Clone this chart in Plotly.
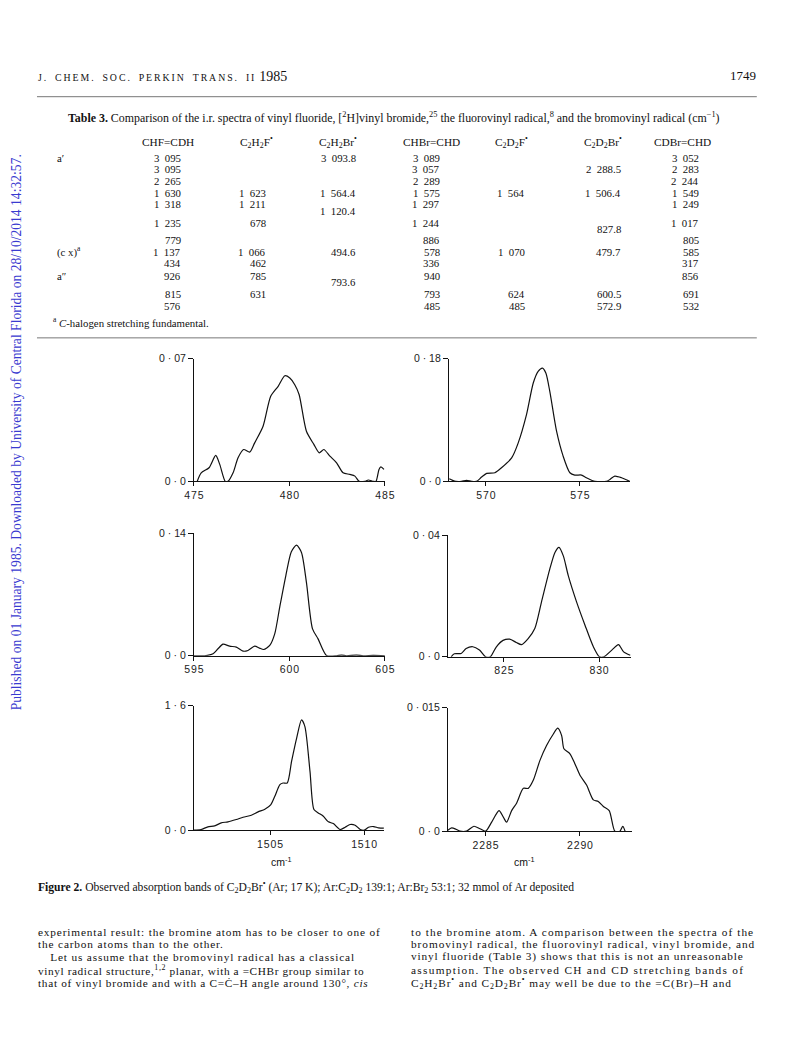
import plotly.graph_objects as go

W, H = 792, 1056

# ---------------- spectra ----------------
x1 = [475.17, 475.38, 475.79, 476.14, 476.35, 476.64, 476.78, 477.05, 477.31, 477.6, 477.92, 478.18,
      478.62, 479.02, 479.41, 479.76, 480.02, 480.28, 480.51, 480.89, 481.28, 481.56, 481.8, 482.12,
      482.47, 482.81, 483.16, 483.43, 483.65, 483.95, 484.13, 484.39, 484.53, 484.69, 484.79, 484.95]
y1 = [0, 0.0049, 0.0078, 0.0148, 0.0097, 0, 0, 0.0049, 0.0135, 0.0182, 0.0167, 0.022,
      0.0315, 0.0486, 0.0543, 0.0603, 0.059, 0.0552, 0.0495, 0.0286, 0.0211, 0.0163, 0.0182, 0.0144,
      0.0106, 0.0049, 0.004, 0.003, 0, 0, 0.0008, 0, 0, 0.0068, 0.0083, 0.0068]

x2 = [568.05, 568.23, 568.4, 568.7, 568.97, 569.24, 569.5, 569.77, 570.04, 570.48, 570.83, 571.37,
      571.72, 572.16, 572.52, 572.78, 573.01, 573.19, 573.4, 573.76, 574.11, 574.47, 574.73, 575.09,
      575.35, 575.8, 576.42, 576.6, 576.86, 577.22, 577.66]
y2 = [0.0039, 0.0015, 0, 0, 0.0015, 0, 0, 0.0063, 0.0117, 0.0127, 0.02, 0.0346,
      0.0566, 0.098, 0.1444, 0.1615, 0.1663, 0.159, 0.1322, 0.0737, 0.0371, 0.0127, 0.0093, 0.0093,
      0.0054, 0, 0, 0.0029, 0.0078, 0.0054, 0]

x3 = [595.0, 595.56, 596.0, 596.26, 596.52, 596.87, 597.22, 597.57, 597.83, 598.18, 598.44, 598.65,
      598.97, 599.23, 599.49, 599.81, 600.1, 600.37, 600.63, 600.89, 601.21, 601.5, 601.94, 602.46,
      602.73, 602.99, 603.51, 603.86, 604.39, 605.0]
y3 = [0, 0, 0.0023, 0.008, 0.0133, 0.011, 0.0099, 0.0053, 0.0061, 0.011, 0.0087, 0.0072,
      0.0118, 0.025, 0.0554, 0.0914, 0.1188, 0.1263, 0.118, 0.0838, 0.0307, 0.0193, 0.0004, 0,
      0.0008, 0, 0.0008, 0, 0.0004, 0]

x4 = [822.22, 822.39, 822.75, 823.01, 823.36, 823.71, 824.03, 824.28, 824.6, 824.95, 825.3, 825.65,
      825.92, 826.27, 826.62, 826.97, 827.41, 827.68, 827.89, 828.12, 828.38, 828.82, 829.26, 829.7,
      830.02, 830.26, 830.67, 831.02, 831.29, 831.64]
y4 = [0, 0.001, 0.0011, 0.0027, 0.0033, 0.0022, 0, 0, 0.0033, 0.0054, 0.0058, 0.0047,
      0.004, 0.006, 0.0093, 0.018, 0.0289, 0.0343, 0.036, 0.0332, 0.0267, 0.018, 0.0104, 0.0033,
      0, 0, 0.0022, 0.004, 0.0016, 0.0005]

x5 = [1500.95, 1501.33, 1501.69, 1502.05, 1502.4, 1502.76, 1503.2, 1503.56, 1504.0, 1504.36, 1504.72,
      1505.04, 1505.25, 1505.52, 1505.69, 1505.91, 1506.14, 1506.41, 1506.67, 1506.85, 1507.12,
      1507.33, 1507.56, 1507.83, 1508.1, 1508.36, 1508.72, 1508.99, 1509.25, 1509.52, 1509.79,
      1510.0, 1510.23, 1510.5, 1510.77, 1511.05]
y5 = [0, 0.0085, 0.043, 0.055, 0.094, 0.107, 0.137, 0.166, 0.192, 0.235, 0.269,
      0.329, 0.435, 0.585, 0.606, 0.606, 0.883, 1.182, 1.416, 1.331, 0.755,
      0.265, 0.222, 0.179, 0.107, 0.085, 0.0085, 0.038, 0.073, 0.064, 0.0085,
      0, 0.038, 0.047, 0.03, 0.026]

x6 = [2283.0, 2283.2, 2283.43, 2283.64, 2283.99, 2284.38, 2284.7, 2285.0, 2285.32, 2285.71, 2285.94,
      2286.11, 2286.38, 2286.64, 2287.0, 2287.26, 2287.53, 2287.88, 2288.23, 2288.59, 2288.82,
      2289.03, 2289.15, 2289.47, 2289.73, 2290.0, 2290.35, 2290.71, 2290.97, 2291.24, 2291.55,
      2291.85, 2292.12, 2292.27, 2292.39]
y6 = [0.00012, 0.0004, 0.00024, 0, 0, 0.0006, 0.0003, 0, 0.0011, 0.0025, 0.0017,
      0.0011, 0.0025, 0.0034, 0.0052, 0.0052, 0.0062, 0.0086, 0.0104, 0.0118, 0.0125,
      0.0116, 0.01, 0.0094, 0.0082, 0.0068, 0.0056, 0.0038, 0.0036, 0.003, 0.0025,
      0, 0, 0.0006, 0]

x_ranges = [[475, 485], [568.03, 577.66], [595, 605], [822.05, 831.67], [1500.95, 1511.05], [2283, 2292.75]]
x_ticks = [[475, 480, 485], [570, 575], [595, 600, 605], [825, 830], [1505, 1510], [2285, 2290]]
y_tops = [0.07, 0.18, 0.14, 0.04, 1.6, 0.015]
y_top_labels = ["0 · 07", "0 · 18", "0 · 14", "0 · 04", "1 · 6", "0 · 015"]

# ---------------- table data ----------------
table_headers = ["CHF=CDH", "C<sub>2</sub>H<sub>2</sub>F<sup>•</sup>", "C<sub>2</sub>H<sub>2</sub>Br<sup>•</sup>",
                 "CHBr=CHD", "C<sub>2</sub>D<sub>2</sub>F<sup>•</sup>", "C<sub>2</sub>D<sub>2</sub>Br<sup>•</sup>",
                 "CDBr=CHD"]
chf_cdh = ["3 095", "3 095", "2 265", "1 630", "1 318", None, "1 235", None, "779", "1 137", "434", "926", None, "815", "576"]
c2h2f = [None, None, None, "1 623", "1 211", None, "678", None, None, "1 066", "462", "785", None, "631", None]
c2h2br = ["3 093.8", None, None, "1 564.4", None, "1 120.4", None, None, None, "494.6", None, None, "793.6", None, None]
chbr_chd = ["3 089", "3 057", "2 289", "1 575", "1 297", None, "1 244", None, "886", "578", "336", "940", None, "793", "485"]
c2d2f = [None, None, None, "1 564", None, None, None, None, None, "1 070", None, None, None, "624", "485"]
c2d2br = [None, "2 288.5", None, "1 506.4", None, None, None, "827.8", None, "479.7", None, None, None, "600.5", "572.9"]
cdbr_chd = ["3 052", "2 283", "2 244", "1 549", "1 249", None, "1 017", None, "805", "585", "317", "856", None, "691", "532"]
row_labels = ["a′", None, None, None, None, None, None, None, None, "(c x)<sup>a</sup>", None, "a″", None, None, None]
table_columns = [chf_cdh, c2h2f, c2h2br, chbr_chd, c2d2f, c2d2br, cdbr_chd]

# ---------------- layout geometry (target page pixels) ----------------
slot_y = [152.3, 163.3, 175.7, 187.7, 199, 206, 217.3, 223.3, 235, 246.7, 258.3, 270.7, 276.7, 288.7, 301]
col_right = [182, 267, 357, 441, 526, 622, 700]
head_center = [168, 257, 338, 432, 512, 603, 683]

# plot boxes: (left, right, baseline, top) in page px
boxes = [(194, 385, 477, 354), (449, 630, 477, 354),
         (194, 385, 652, 529), (448, 631, 653, 531),
         (194, 384, 827, 702), (448, 632, 828, 704)]

# the captured picture maps figure px -> picture px as x' = OX + SX*x, y' = SY*y
SX, OX, SY = 0.975, 10.0, 0.992


def px(x):
    return ((x - OX) / SX) / W


def py(y):
    return 1 - (y / SY) / H


fig = go.Figure()
xs = [x1, x2, x3, x4, x5, x6]
ys = [y1, y2, y3, y4, y5, y6]
tickfont = dict(family="Liberation Sans, DejaVu Sans, sans-serif", size=10.5, color="#222")

for i in range(6):
    n = "" if i == 0 else str(i + 1)
    fig.add_trace(go.Scatter(x=xs[i], y=ys[i], mode="lines", xaxis="x" + n, yaxis="y" + n,
                             line=dict(color="#111", width=1.2, shape="spline", smoothing=0.7),
                             showlegend=False, hoverinfo="skip"))
    l, r, b, t = boxes[i]
    fig.layout["xaxis" + n] = dict(domain=[px(l), px(r)], range=x_ranges[i], anchor="y" + n,
                                   showgrid=False, zeroline=False, showline=True, linecolor="#111",
                                   linewidth=1, ticks="outside", ticklen=4, tickcolor="#111",
                                   tickvals=x_ticks[i],
                                   ticktext=["\u200a".join(str(v)) for v in x_ticks[i]],
                                   tickfont=tickfont, fixedrange=True)
    fig.layout["yaxis" + n] = dict(domain=[py(b), py(t)], range=[0, y_tops[i]], anchor="x" + n,
                                   showgrid=False, zeroline=False, showline=True, linecolor="#111",
                                   linewidth=1, ticks="outside", ticklen=5, tickcolor="#111",
                                   tickvals=[0, y_tops[i]], ticktext=["0 · 0", y_top_labels[i]],
                                   tickfont=tickfont, fixedrange=True)

serif = "Liberation Serif, Times New Roman, serif"
ann = []


def text(x, y, s, size=10, anchor="left", color="#111", family=serif, angle=0):
    ann.append(dict(x=px(x), y=py(y), xref="paper", yref="paper", text=s, showarrow=False,
                    xanchor=anchor, yanchor="middle", textangle=angle, borderpad=0,
                    font=dict(family=family, size=size, color=color)))


def spaced(s):
    return "\u2009".join(s.replace(" ", "\u2002"))


def tracked(s, ls):
    return "<span style='letter-spacing:%.2fpx'>%s</span>" % (ls, s)


# page header
text(37, 71, spaced("J. CHEM. SOC. PERKIN TRANS. II") + "\u2002<span style='font-size:14px'>1985</span>",
     size=9.8)
text(757, 70, "1749", size=13, anchor="right")

# table
text(67, 112, "<b>Table 3.</b> Comparison of the i.r. spectra of vinyl fluoride, [<sup>2</sup>H]vinyl bromide,"
              "<sup>25</sup> the fluorovinyl radical,<sup>8</sup> and the bromovinyl radical (cm<sup>−1</sup>)",
     size=11.9)
for c, h in enumerate(table_headers):
    text(head_center[c], 136, h, size=11.3, anchor="center")
for c, col in enumerate(table_columns):
    for s, v in enumerate(col):
        if v is not None:
            text(col_right[c], slot_y[s], v.replace(" ", "\u2007"), size=10.8, anchor="right")
for s, v in enumerate(row_labels):
    if v is not None:
        text(56, slot_y[s], v, size=10.8)
text(52, 317, "<sup>a</sup> <i>C</i>-halogen stretching fundamental.", size=10.8)

# axis unit labels
text(282, 858, "cm<sup>-1</sup>", size=10.5, anchor="center", family="Liberation Sans, sans-serif")
text(525, 858, "cm<sup>-1</sup>", size=10.5, anchor="center", family="Liberation Sans, sans-serif")

# figure caption
text(37, 884, "<b>Figure 2.</b> Observed absorption bands of C<sub>2</sub>D<sub>2</sub>Br<sup>•</sup> (Ar; 17 K); "
              "Ar:C<sub>2</sub>D<sub>2</sub> 139:1; Ar:Br<sub>2</sub> 53:1; 32 mmol of Ar deposited", size=11.6)

# body text
left_lines = ["experimental result: the bromine atom has to be closer to one of",
              "the carbon atoms than to the other.",
              "\u2003Let us assume that the bromovinyl radical has a classical",
              "vinyl radical structure,<sup>1,2</sup> planar, with a =CHBr group similar to",
              "that of vinyl bromide and with a C=Ċ–H angle around 130°, <i>cis</i>"]
right_lines = ["to the bromine atom. A comparison between the spectra of the",
               "bromovinyl radical, the fluorovinyl radical, vinyl bromide, and",
               "vinyl fluoride (Table 3) shows that this is not an unreasonable",
               "assumption. The observed CH and CD stretching bands of",
               "C<sub>2</sub>H<sub>2</sub>Br<sup>•</sup> and C<sub>2</sub>D<sub>2</sub>Br<sup>•</sup> may well be due to the =C(Br)–H and"]
left_ls = [0.85, 0.85, 0.85, 0.6, 0.7]
right_ls = [1.05, 0.95, 0.85, 1.3, 0.9]
line_y = [929, 941, 954, 967, 980]
for k in range(5):
    text(37, line_y[k], tracked(left_lines[k], left_ls[k]), size=11.3)
    text(410, line_y[k], tracked(right_lines[k], right_ls[k]), size=11.3)

# watermark
ann.append(dict(x=7 / W, y=py(428), xref="paper", yref="paper",
                text="Published on 01 January 1985. Downloaded by University of Central Florida on 28/10/2014 14:32:57.",
                showarrow=False, xanchor="center", yanchor="middle", textangle=-90, borderpad=0,
                font=dict(family=serif, size=13.6, color="#3a3ad0")))

shapes = [dict(type="line", xref="paper", yref="paper", x0=px(37), x1=px(757), y0=py(91), y1=py(91),
               line=dict(color="#777", width=1)),
          dict(type="line", xref="paper", yref="paper", x0=px(37), x1=px(757), y0=py(333), y1=py(333),
               line=dict(color="#777", width=1))]

fig.update_layout(width=W, height=H, margin=dict(l=0, r=0, t=0, b=0), paper_bgcolor="white",
                  plot_bgcolor="white", annotations=ann, shapes=shapes, showlegend=False)
fig.write_html("out.html", config={"displayModeBar": False},
               post_script="document.body.style.margin='0';"
                           "document.body.style.overflow='hidden';"
                           "document.documentElement.style.overflow='hidden';")
